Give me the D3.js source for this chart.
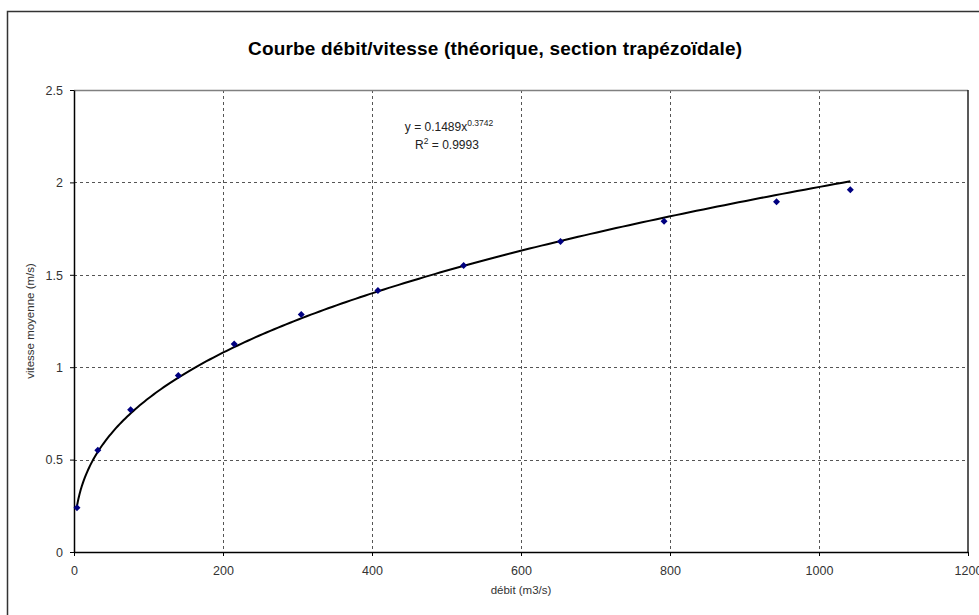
<!DOCTYPE html>
<html>
<head>
<meta charset="utf-8">
<script src="https://cdn.jsdelivr.net/npm/d3@7"></script>
<style>
    body { margin: 0; background: #fff; }
    svg { display: block; font-family: Arial, 'Liberation Sans', sans-serif; }
    .grid line { stroke: #555; stroke-dasharray: 3,3; shape-rendering: crispEdges; }
</style>
</head>
<body>
<div id="chart"></div>
<script>
const debit = [4, 32, 76, 140, 215, 305, 408, 523, 653, 792, 943, 1042];
const vitesse = [0.24, 0.55, 0.77, 0.955, 1.125, 1.285, 1.415, 1.55, 1.68, 1.79, 1.895, 1.96];
const xTicks = [0, 200, 400, 600, 800, 1000, 1200];
const yTicks = [0, 0.5, 1, 1.5, 2, 2.5];

const width = 979;
const height = 615;
const plot = { left: 74, top: 90, right: 968, bottom: 552 };

const svg = d3.select('#chart').append('svg')
    .attr('width', width)
    .attr('height', height);

// chart border
svg.append('rect')
    .attr('x', 7.5).attr('y', 11.5)
    .attr('width', width).attr('height', height)
    .attr('fill', 'none').attr('stroke', '#333').attr('stroke-width', 1.5);

const x = d3.scaleLinear().domain([0, 1200]).range([plot.left, plot.right]);
const y = d3.scaleLinear().domain([0, 2.5]).range([plot.bottom, plot.top]);

// gridlines
const grid = svg.append('g').attr('class', 'grid');
grid.selectAll('.gx')
    .data(xTicks.filter(d => d > 0 && d < 1200))
    .join('line')
    .attr('x1', d => Math.round(x(d)) + 0.5).attr('x2', d => Math.round(x(d)) + 0.5)
    .attr('y1', plot.top).attr('y2', plot.bottom);
grid.selectAll('.gy')
    .data(yTicks.filter(d => d > 0 && d < 2.5))
    .join('line')
    .attr('y1', d => Math.round(y(d)) + 0.5).attr('y2', d => Math.round(y(d)) + 0.5)
    .attr('x1', plot.left).attr('x2', plot.right);

// plot area border
svg.append('line')
    .attr('x1', plot.left).attr('x2', plot.right)
    .attr('y1', plot.top + 0.5).attr('y2', plot.top + 0.5)
    .attr('stroke', '#808080').attr('stroke-width', 1.5);
svg.append('line')
    .attr('x1', plot.right).attr('x2', plot.right)
    .attr('y1', plot.top).attr('y2', plot.bottom)
    .attr('stroke', '#222').attr('stroke-width', 1.5);

// axes
const xAxis = svg.append('g')
    .attr('transform', `translate(0,${plot.bottom})`)
    .call(d3.axisBottom(x).tickValues(xTicks).tickFormat(d3.format('')).tickSize(4).tickSizeOuter(0).tickPadding(6));
const yAxis = svg.append('g')
    .attr('transform', `translate(${plot.left},0)`)
    .call(d3.axisLeft(y).tickValues(yTicks).tickFormat(d3.format('')).tickSize(4).tickSizeOuter(0).tickPadding(7));

[xAxis, yAxis].forEach(a => {
    a.attr('font-size', null).attr('font-family', null);
    a.select('.domain').attr('stroke', '#000').attr('stroke-width', 1.5);
    a.selectAll('.tick line').attr('stroke', '#000');
    a.selectAll('.tick text')
        .style('font-size', '12.5px')
        .attr('fill', '#333');
});
xAxis.selectAll('.tick text').attr('dy', '1em');
yAxis.selectAll('.tick text').attr('dy', '0.35em');

// power trendline fitted from the data (least squares in log space)
const lx = debit.map(Math.log);
const ly = vitesse.map(Math.log);
const mx = d3.mean(lx), my = d3.mean(ly);
const b = d3.sum(lx, (v, i) => (v - mx) * (ly[i] - my)) / d3.sum(lx, v => (v - mx) * (v - mx));
const a = Math.exp(my - b * mx);
const curveX = d3.range(0, 201).map(i => debit[0] + (d3.max(debit) - debit[0]) * Math.pow(i / 200, 2));
svg.append('path')
    .datum(curveX)
    .attr('fill', 'none')
    .attr('stroke', '#000')
    .attr('stroke-width', 2)
    .attr('d', d3.line().x(d => x(d)).y(d => y(a * Math.pow(d, b))));

// markers
svg.selectAll('.pt')
    .data(debit.map((d, i) => [d, vitesse[i]]))
    .join('path')
    .attr('transform', d => `translate(${x(d[0])},${y(d[1])})`)
    .attr('d', 'M0,-3.5L3.5,0L0,3.5L-3.5,0Z')
    .attr('fill', '#000080');

// equation label
const eq = svg.append('text')
    .attr('x', 449).attr('y', 131)
    .attr('text-anchor', 'middle')
    .style('font-size', '12px').attr('fill', '#222');
eq.append('tspan').text('y = 0.1489x');
eq.append('tspan').attr('dy', -5).style('font-size', '8.5px').text('0.3742');
const r2 = svg.append('text')
    .attr('x', 447).attr('y', 149)
    .attr('text-anchor', 'middle')
    .style('font-size', '12px').attr('fill', '#222');
r2.append('tspan').text('R');
r2.append('tspan').attr('dy', -5).style('font-size', '8.5px').text('2');
r2.append('tspan').attr('dy', 5).text(' = 0.9993');

// title
svg.append('text')
    .attr('x', 495).attr('y', 55)
    .attr('text-anchor', 'middle')
    .style('font-size', '19px').style('font-weight', 'bold')
    .attr('textLength', 494)
    .text('Courbe débit/vitesse (théorique, section trapézoïdale)');

// axis titles
svg.append('text')
    .attr('x', (plot.left + plot.right) / 2).attr('y', 594)
    .attr('text-anchor', 'middle')
    .style('font-size', '11.5px').attr('fill', '#333')
    .text('débit (m3/s)');
svg.append('text')
    .attr('transform', `translate(34,${(plot.top + plot.bottom) / 2}) rotate(-90)`)
    .attr('text-anchor', 'middle')
    .style('font-size', '11.5px').attr('fill', '#333')
    .text('vitesse moyenne (m/s)');
</script>
</body>
</html>
